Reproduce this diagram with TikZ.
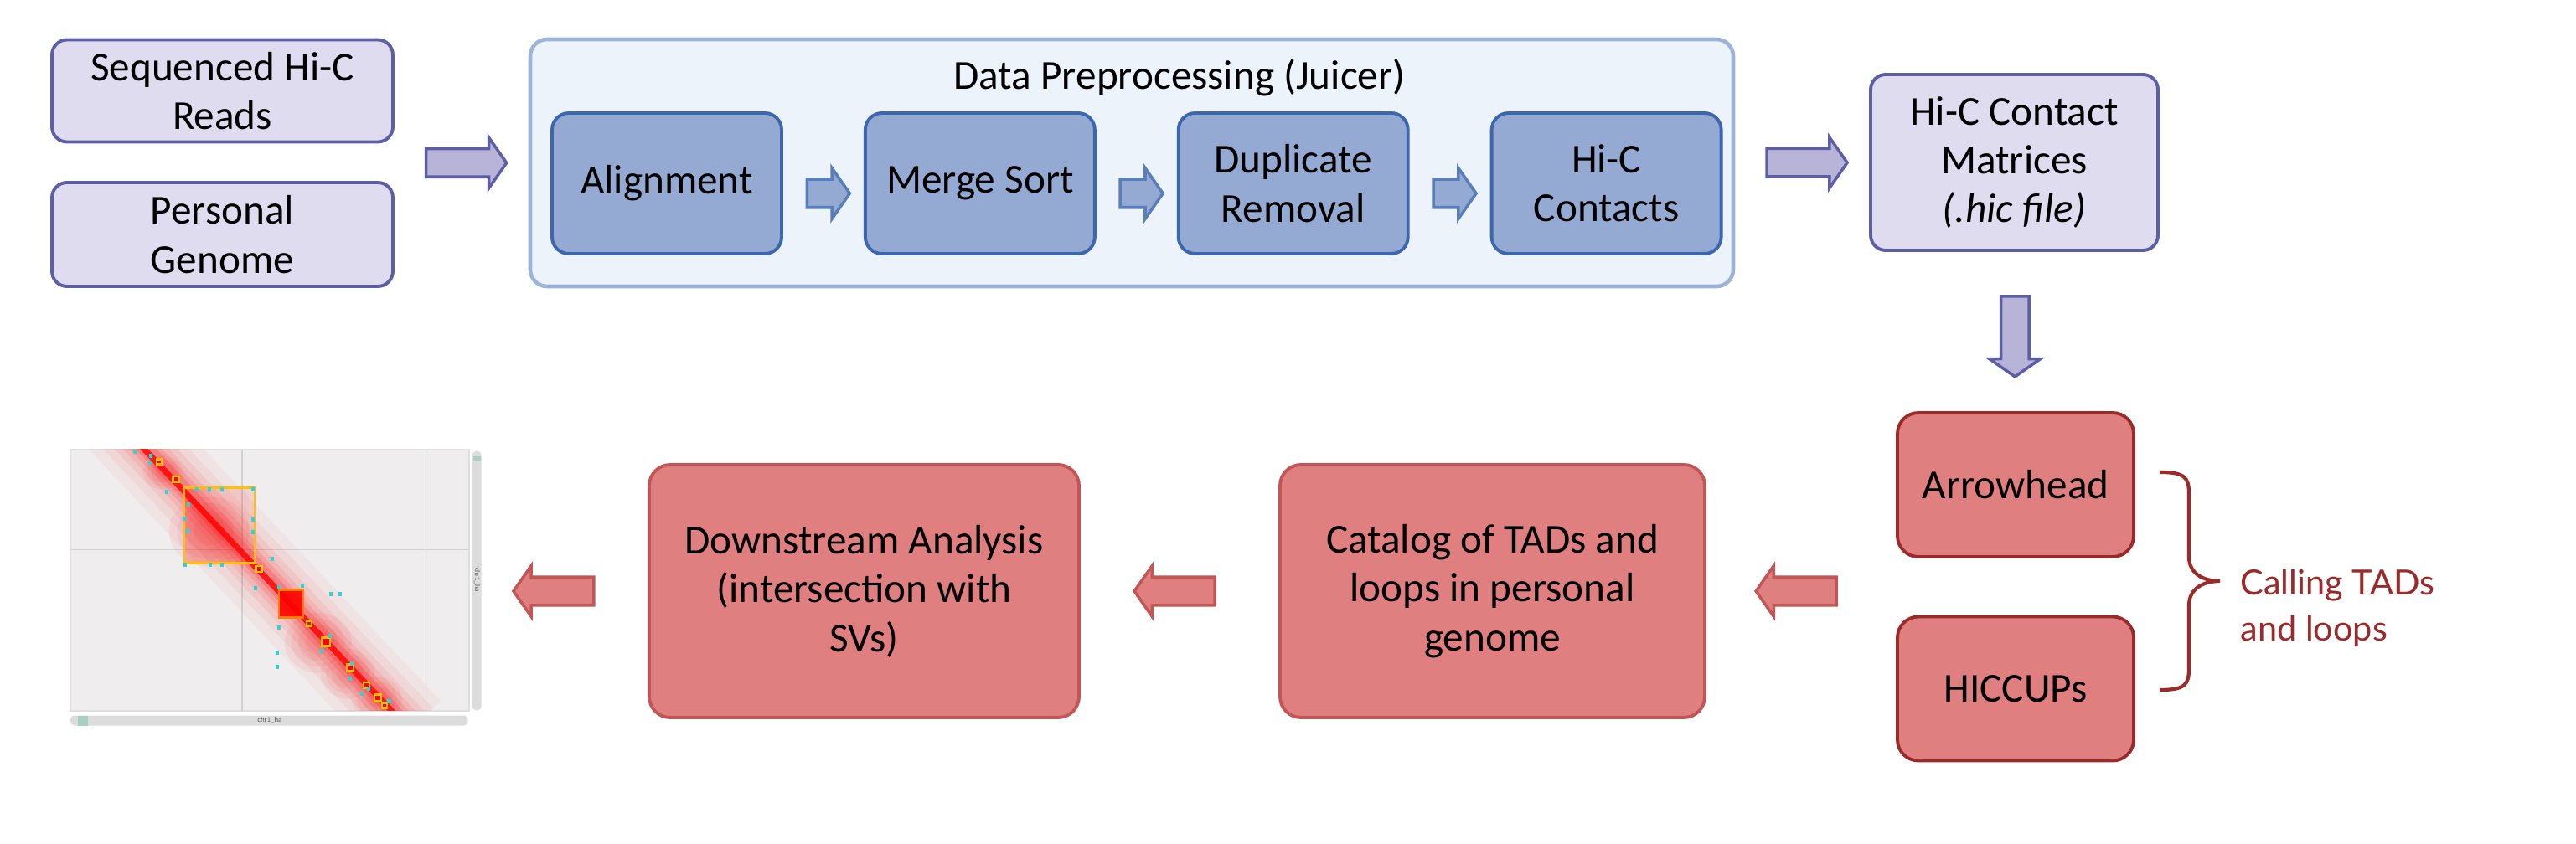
\documentclass[tikz,border=0pt]{standalone}
\usepackage{fontspec}
\setmainfont{Carlito}
\newfontfamily\callfont{Lato}
\usepackage{xcolor}
\usepackage{tikz}
\usetikzlibrary{shapes,shapes.arrows,positioning,calc}

\definecolor{lilac}{HTML}{DFDCEF}
\definecolor{lilacline}{HTML}{5D5EA3}
\definecolor{lilacarrow}{HTML}{B8B4D8}
\definecolor{paleblue}{HTML}{EDF3FB}
\definecolor{paleline}{HTML}{9DB3DA}
\definecolor{midblue}{HTML}{95AAD3}
\definecolor{midline}{HTML}{3C67AE}
\definecolor{salmon}{HTML}{E07F7F}
\definecolor{salmonline}{HTML}{C25656}
\definecolor{darkred}{HTML}{9B2A2A}
\definecolor{mapbg}{HTML}{EFEDED}
\definecolor{barfill}{HTML}{DCDCDC}
\definecolor{barmark}{HTML}{A8CFC0}
\definecolor{loopdot}{HTML}{2FD3D3}
\definecolor{tadline}{HTML}{FFC000}

\begin{document}
\begin{tikzpicture}[
    font=\fontsize{14}{16.6}\selectfont,
    inbox/.style={rectangle, rounded corners=0.18cm, draw=lilacline, fill=lilac, line width=1.1pt, align=center, minimum width=4.07cm, inner sep=2pt},
    prepbox/.style={rectangle, rounded corners=0.2cm, draw=paleline, fill=paleblue, line width=1.3pt, minimum width=14.36cm, minimum height=2.95cm},
    stepbox/.style={rectangle, rounded corners=0.2cm, draw=midline, fill=midblue, line width=1.1pt, align=center, minimum width=2.74cm, minimum height=1.68cm, inner sep=2pt},
    resbox/.style={rectangle, rounded corners=0.25cm, draw=salmonline, fill=salmon, line width=1.1pt, align=center, minimum width=5.07cm, minimum height=3.02cm},
    callbox/.style={rectangle, rounded corners=0.25cm, draw=darkred, fill=salmon, line width=1.1pt, align=center, minimum width=2.82cm, minimum height=1.72cm},
    fatarrow/.style={single arrow, single arrow tip angle=110, single arrow head extend=0.135cm, inner xsep=0pt, inner ysep=0.15cm, minimum height=0.96cm, line width=1pt},
    parrow/.style={fatarrow, draw=lilacline, fill=lilacarrow},
    barrow/.style={fatarrow, draw=midline!85, fill=midblue, minimum height=0.51cm},
    rarrow/.style={fatarrow, draw=salmonline, fill=salmon, shape border rotate=180},
    tad/.style={draw=tadline, line width=0.7pt},
    loop/.style={fill=loopdot, inner sep=0pt, minimum size=0.045cm}
]
    \useasboundingbox (0,0) rectangle (30.75,-10.08);

    % inputs
    \node[inbox, minimum height=1.22cm] (reads) at (2.655,-1.085) {Sequenced Hi-C\\Reads};
    \node[inbox, minimum height=1.24cm] (genome) at (2.655,-2.80) {Personal\\Genome};

    % juicer steps
    \node[prepbox] (prep) at (13.51,-1.945) {};
    \node (preptitle) at (14.08,-0.93) {Data Preprocessing (Juicer)};
    \node[stepbox] (align) at (7.96,-2.19) {Alignment};
    \node[stepbox, right=0.96cm of align] (merge) {Merge Sort};
    \node[stepbox, right=0.96cm of merge] (dedup) {Duplicate\\Removal};
    \node[stepbox, right=0.96cm of dedup] (contacts) {Hi-C\\Contacts};

    \node[inbox, minimum width=3.43cm, minimum height=2.10cm] (matrix) at (24.045,-1.94) {Hi-C Contact\\Matrices\\\textit{(.hic file)}};

    % calling
    \node[callbox] (arrowhead) at (24.06,-5.79) {Arrowhead};
    \node[callbox] (hiccups) at (24.06,-8.225) {HICCUPs};
    \node[resbox] (catalog) at (17.815,-7.06) {Catalog of TADs and\\loops in personal\\genome};
    \node[resbox, minimum width=5.13cm] (downstream) at (10.315,-7.06) {Downstream Analysis\\(intersection with\\SVs)};

    \draw[darkred, line width=1.2pt] (25.78,-5.64) .. controls (26.08,-5.64) and (26.13,-5.70) .. (26.13,-5.90)
        -- (26.13,-6.65) .. controls (26.13,-6.85) and (26.30,-6.94) .. (26.50,-6.94)
        .. controls (26.30,-6.94) and (26.13,-7.03) .. (26.13,-7.23)
        -- (26.13,-7.98) .. controls (26.13,-8.18) and (26.08,-8.24) .. (25.78,-8.24);
    \node[anchor=west, align=left, text=darkred, font=\callfont\fontsize{11.8}{15.6}\selectfont] (calling) at (26.62,-7.26) {Calling TADs\\and loops};

    % contact map
    \node[fill=mapbg, draw=gray!25, line width=0.3pt, minimum width=4.76cm, minimum height=3.12cm, inner sep=0pt] (hicmap) at (3.22,-6.93) {};
    \begin{scope}[x=0.01cm, y=-0.01cm]
        \begin{scope}
            \clip (84,537) rectangle (560,849);
            \draw[gray!35, line width=0.4pt] (289,537) -- (289,849) (509,537) -- (509,849) (84,657) -- (560,657);
            \foreach \lw/\op in {1.0/0.04, 0.75/0.05, 0.55/0.07, 0.4/0.09, 0.28/0.12, 0.18/0.18}
                \draw[red, opacity=\op, line width=\lw cm] (140,500) -- (490,872);
            \fill[red, opacity=0.12] (220,583) rectangle (304,673);
            \fill[red, opacity=0.15] (220,583) -- (220,673) -- (304,673) -- cycle;
            \foreach \ex/\ey/\ea/\eb in {380/768/40/36, 415/805/32/30, 450/835/30/26, 250/635/48/42, 195/565/24/20}
                \foreach \s in {1,0.8,0.6,0.4}
                    \fill[red, opacity=0.06] (\ex,\ey) ellipse (\s*\ea cm/100 and \s*\eb cm/100);
            \draw[red, opacity=0.8, line width=0.07cm] (165,529) -- (475,857);
            \fill[red, opacity=0.9] (333,705) rectangle (362,738);
            \draw[tad] (220,583) rectangle (304,673);
            \draw[draw=orange, line width=0.7pt] (333,705) rectangle (362,738);
            \foreach \cx/\cy/\w in {190/552/6, 210/573/7, 309/680/7, 369/745/6, 389/767/10, 418/798/8, 438/819/7, 451/834/8, 459/843/6}
                \draw[tad, fill=red] (\cx-\w/2,\cy-\w/2) rectangle (\cx+\w/2,\cy+\w/2);
            \foreach \cx/\cy in {161/540, 179/553, 180/545, 199/588, 235/585, 250/585, 265/585, 302/585, 225/603, 220/620, 224/635, 302/621, 302/636, 221/675, 251/675, 265/675, 325/668, 305/703, 333/702, 361/700, 395/710, 406/710, 333/750, 331/780, 331/797, 384/778, 420/793, 432/829, 418/811, 465/838, 394/760, 440/823}
                \node[loop] at (\cx,\cy) {};
        \end{scope}
        \fill[barfill, rounded corners=0.05cm] (564,539) rectangle (575,849);
        \fill[barmark] (565,545) rectangle (574,551);
        \node[rotate=-90, font=\fontsize{2.5}{3}\selectfont, text=gray!70!black] at (570,693) {chr1\_ha};
        \fill[barfill, rounded corners=0.05cm] (84,855) rectangle (559,867);
        \fill[barmark] (93,855) rectangle (105,867);
        \node[font=\fontsize{2.5}{3}\selectfont, text=gray!70!black] at (322,861) {chr1\_ha};
    \end{scope}

    % block arrows
    \node[parrow] (p1) at ($(reads.east |- prep.west)!0.5!(prep.west)$) {};
    \node[parrow] (p2) at ($(prep.east)!0.5!(matrix.west)$) {};
    \node[parrow, shape border rotate=270, inner xsep=0.15cm, inner ysep=0pt] (p3) at ($(matrix.south)!0.5!(arrowhead.north)$) {};
    \node[barrow, yshift=-0.12cm] (b1) at ($(align.east)!0.5!(merge.west)$) {};
    \node[barrow, yshift=-0.12cm] (b2) at ($(merge.east)!0.5!(dedup.west)$) {};
    \node[barrow, yshift=-0.12cm] (b3) at ($(dedup.east)!0.5!(contacts.west)$) {};
    \node[rarrow] (r1) at ($(catalog.east)!0.5!(arrowhead.west |- catalog.east)$) {};
    \node[rarrow] (r2) at ($(downstream.east)!0.5!(catalog.west)$) {};
    \node[rarrow] (r3) at ($(hicmap.east |- downstream.west)!0.5!(downstream.west)$) {};
\end{tikzpicture}
\end{document}
